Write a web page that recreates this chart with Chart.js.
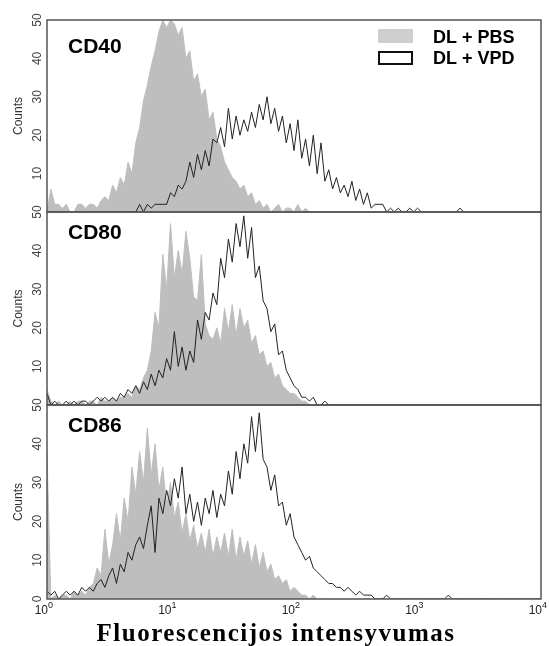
<!DOCTYPE html>
<html>
<head>
<meta charset="utf-8">
<script src="https://cdn.jsdelivr.net/npm/chart.js@4.4.1/dist/chart.umd.min.js"></script>
<style>
  body { margin: 0; background: #fff; }
  #wrap { position: relative; width: 549px; height: 646px; }
  canvas { position: absolute; left: 0; top: 0; }
</style>
</head>
<body>
<div id="wrap">
  <canvas id="cd40Chart" width="549" height="646"></canvas>
  <canvas id="cd80Chart" width="549" height="646"></canvas>
  <canvas id="cd86Chart" width="549" height="646"></canvas>
</div>
<script>
// channels: 32 per decade, 10^0 .. 10^4
const xTickExponents = ['0', '1', '2', '3', '4'];
const seriesNames = ['DL + PBS', 'DL + VPD'];
const panelNames = ['CD40', 'CD80', 'CD86'];

const pbsCD40 = [
  0, 6, 2, 2, 1, 2, 0, 0, 2, 2, 1, 2, 2, 1, 3, 4,
  3, 7, 5, 9, 7, 13, 10, 18, 22, 29, 33, 38, 42, 47, 50, 48,
  50, 49, 46, 48, 40, 42, 34, 36, 30, 32, 24, 26, 19, 17, 13, 11,
  9, 8, 6, 7, 4, 5, 2, 3, 1, 2, 0, 1, 2, 0, 1, 1,
  0, 2, 0, 1, 0, 0, 0, 0, 0, 0, 0, 0, 0, 0, 0, 0,
  0, 0, 0, 0, 0, 0, 0, 0, 0, 0, 0, 0, 0, 0, 0, 0,
  0, 0, 0, 0, 0, 0, 0, 0, 0, 0, 0, 0, 0, 0, 0, 0,
  0, 0, 0, 0, 0, 0, 0, 0, 0, 0, 0, 0, 0, 0, 0, 0,
  0
];
const vpdCD40 = [
  0, 0, 0, 0, 0, 0, 0, 0, 0, 0, 0, 0, 0, 0, 0, 0,
  0, 0, 0, 0, 0, 0, 0, 0, 2, 0, 2, 1, 2, 2, 2, 2,
  5, 4, 7, 6, 8, 13, 9, 15, 11, 16, 12, 19, 18, 22, 17, 27,
  19, 25, 20, 24, 21, 26, 22, 28, 24, 30, 23, 27, 21, 25, 18, 23,
  16, 24, 14, 19, 12, 20, 10, 18, 8, 11, 6, 9, 5, 7, 4, 8,
  3, 6, 2, 5, 1, 2, 2, 2, 0, 1, 0, 1, 0, 0, 1, 0,
  1, 0, 0, 0, 0, 0, 0, 0, 0, 0, 0, 1, 0, 0, 0, 0,
  0, 0, 0, 0, 0, 0, 0, 0, 0, 0, 0, 0, 0, 0, 0, 0,
  0
];
const pbsCD80 = [
  4, 1, 0, 1, 0, 0, 1, 0, 1, 1, 0, 1, 1, 0, 2, 1,
  1, 2, 1, 2, 2, 3, 2, 5, 4, 7, 9, 14, 24, 20, 39, 30,
  47, 33, 40, 34, 45, 38, 28, 27, 39, 21, 18, 17, 20, 16, 25, 19,
  26, 18, 25, 20, 22, 16, 18, 13, 14, 10, 11, 7, 8, 5, 4, 3,
  3, 2, 1, 1, 0, 0, 0, 0, 0, 0, 0, 0, 0, 0, 0, 0,
  0, 0, 0, 0, 0, 0, 0, 0, 0, 0, 0, 0, 0, 0, 0, 0,
  0, 0, 0, 0, 0, 0, 0, 0, 0, 0, 0, 0, 0, 0, 0, 0,
  0, 0, 0, 0, 0, 0, 0, 0, 0, 0, 0, 0, 0, 0, 0, 0,
  0
];
const vpdCD80 = [
  3, 0, 1, 0, 0, 1, 0, 1, 0, 1, 1, 0, 1, 2, 1, 2,
  1, 2, 1, 3, 2, 4, 3, 5, 3, 6, 4, 8, 5, 9, 7, 12,
  9, 19, 10, 15, 9, 14, 11, 22, 17, 24, 22, 29, 26, 38, 33, 43,
  37, 47, 41, 49, 38, 46, 33, 36, 27, 25, 19, 21, 13, 14, 9, 7,
  5, 4, 2, 2, 1, 2, 0, 0, 1, 0, 0, 0, 0, 0, 0, 0,
  0, 0, 0, 0, 0, 0, 0, 0, 0, 0, 0, 0, 0, 0, 0, 0,
  0, 0, 0, 0, 0, 0, 0, 0, 0, 0, 0, 0, 0, 0, 0, 0,
  0, 0, 0, 0, 0, 0, 0, 0, 0, 0, 0, 0, 0, 0, 0, 0,
  0
];
const pbsCD86 = [
  38, 0, 1, 0, 1, 1, 0, 2, 1, 2, 1, 3, 4, 8, 6, 18,
  9, 14, 22, 15, 26, 20, 34, 27, 38, 30, 44, 32, 40, 28, 34, 24,
  30, 21, 25, 17, 22, 15, 19, 13, 17, 12, 18, 11, 16, 12, 17, 11,
  18, 10, 16, 11, 15, 9, 14, 8, 12, 7, 9, 5, 6, 4, 5, 2,
  3, 2, 1, 1, 0, 1, 0, 0, 0, 0, 0, 0, 0, 0, 0, 0,
  0, 0, 0, 0, 0, 0, 0, 0, 0, 0, 0, 0, 0, 0, 0, 0,
  0, 0, 0, 0, 0, 0, 0, 0, 0, 0, 0, 0, 0, 0, 0, 0,
  0, 0, 0, 0, 0, 0, 0, 0, 0, 0, 0, 0, 0, 0, 0, 0,
  0
];
const vpdCD86 = [
  2, 1, 2, 0, 1, 2, 1, 2, 1, 3, 2, 3, 2, 4, 5, 3,
  6, 8, 4, 9, 7, 12, 10, 14, 16, 13, 19, 24, 12, 26, 22, 28,
  24, 31, 26, 34, 22, 27, 20, 25, 19, 26, 22, 28, 21, 27, 24, 33,
  27, 38, 31, 40, 35, 47, 38, 48, 36, 34, 28, 32, 24, 25, 19, 22,
  16, 14, 12, 10, 11, 8, 7, 6, 5, 4, 4, 3, 3, 2, 3, 2,
  1, 2, 1, 1, 1, 0, 0, 0, 1, 0, 0, 0, 0, 0, 0, 0,
  0, 0, 0, 0, 0, 0, 0, 0, 1, 0, 0, 0, 0, 0, 0, 0,
  0, 0, 0, 0, 0, 0, 0, 0, 0, 0, 0, 0, 0, 0, 0, 0,
  0
];
const channels = pbsCD40.map((v, i) => i);

const GRAY = '#bebebe';
const LINE = '#222';
const SANS = '"Liberation Sans", Arial, sans-serif';

// frame, rotated y tick labels, x tick labels with exponent, panel name
const panelDeco = {
  id: 'panelDeco',
  afterDraw(chart, args, opts) {
    const { ctx, chartArea: a } = chart;
    const y = chart.scales.y;
    const x = chart.scales.x;
    ctx.save();
    ctx.fillStyle = '#444';
    ctx.font = '12px ' + SANS;
    ctx.textAlign = 'center';
    ctx.textBaseline = 'middle';
    y.ticks.forEach(t => {
      if (t.value === 0 && !opts.showZero) return;
      ctx.save();
      ctx.translate(38, y.getPixelForValue(t.value));
      ctx.rotate(-Math.PI / 2);
      ctx.fillText(String(t.value), 0, 0);
      ctx.restore();
    });
    ctx.strokeStyle = '#555';
    ctx.lineWidth = 1.5;
    ctx.strokeRect(a.left, a.top, a.right - a.left, a.bottom - a.top);

    if (opts.showX) {
      ctx.fillStyle = '#222';
      ctx.textBaseline = 'alphabetic';
      x.ticks.forEach((t, i) => {
        const px = x.getPixelForValue(t.value);
        ctx.font = '12px ' + SANS;
        ctx.textAlign = 'right';
        ctx.fillText('10', px + 1, a.bottom + 15);
        ctx.font = '9px ' + SANS;
        ctx.textAlign = 'left';
        ctx.fillText(xTickExponents[i], px + 1, a.bottom + 9);
      });
    }

    ctx.fillStyle = '#000';
    ctx.font = 'bold 21px ' + SANS;
    ctx.textAlign = 'left';
    ctx.textBaseline = 'alphabetic';
    ctx.fillText(opts.name, a.left + 21, a.top + opts.nameY);

    if (opts.legend) {
      ctx.fillStyle = '#cfcfcf';
      ctx.fillRect(378, 29, 35, 14);
      ctx.strokeStyle = '#111';
      ctx.lineWidth = 2;
      ctx.strokeRect(379, 52, 33, 12);
      ctx.fillStyle = '#000';
      ctx.font = 'bold 18px ' + SANS;
      ctx.fillText(seriesNames[0], 433, 43);
      ctx.fillText(seriesNames[1], 433, 64);
    }
    if (opts.xTitle) {
      ctx.fillStyle = '#000';
      ctx.font = 'bold 25px "Liberation Serif", "Times New Roman", serif';
      ctx.textAlign = 'center';
      ctx.letterSpacing = '1.5px';
      ctx.fillText(opts.xTitle, 276, 641);
    }
    ctx.restore();
  }
};

function createHistogram(cfg) {
  const ctx = document.getElementById(cfg.elementId).getContext('2d');
  new Chart(ctx, {
    type: 'line',
    data: {
      labels: channels,
      datasets: [{
        label: seriesNames[1],
        data: cfg.vpd,
        borderColor: LINE,
        borderWidth: 1,
        fill: false,
        pointRadius: 0,
        tension: 0,
        order: 0
      }, {
        label: seriesNames[0],
        data: cfg.pbs,
        borderColor: GRAY,
        backgroundColor: GRAY,
        borderWidth: 1,
        fill: 'origin',
        pointRadius: 0,
        tension: 0,
        order: 1
      }]
    },
    options: {
      responsive: false,
      animation: false,
      layout: { padding: { top: cfg.top, bottom: cfg.bottom, left: 0, right: 8 } },
      plugins: {
        legend: { display: false },
        tooltip: { enabled: false },
        panelDeco: Object.assign({ showX: cfg.showX }, cfg.deco)
      },
      scales: {
        x: {
          type: 'linear',
          min: 0,
          max: 128,
          display: cfg.showX,
          grid: { display: false },
          border: { display: false },
          ticks: { display: false, stepSize: 32 },
          afterFit: s => {
            if (cfg.showX) s.height = 20;
            s.paddingLeft = 0;
            s.paddingRight = 0;
          }
        },
        y: {
          min: 0,
          max: 50,
          grid: { display: false },
          border: { display: false },
          ticks: { display: false, stepSize: 10 },
          title: {
            display: true,
            text: 'Counts',
            color: '#333',
            font: { size: 12, family: SANS },
            padding: { top: 11, bottom: 0 }
          },
          afterFit: s => { s.width = 47; }
        }
      }
    },
    plugins: [panelDeco]
  });
}

createHistogram({
  elementId: 'cd40Chart', pbs: pbsCD40, vpd: vpdCD40,
  top: 20, bottom: 434, showX: false,
  deco: { name: panelNames[0], nameY: 33, showZero: false, legend: true }
});
createHistogram({
  elementId: 'cd80Chart', pbs: pbsCD80, vpd: vpdCD80,
  top: 212, bottom: 241, showX: false,
  deco: { name: panelNames[1], nameY: 27, showZero: false }
});
createHistogram({
  elementId: 'cd86Chart', pbs: pbsCD86, vpd: vpdCD86,
  top: 405, bottom: 27, showX: true,
  deco: { name: panelNames[2], nameY: 27, showZero: true, xTitle: 'Fluorescencijos intensyvumas' }
});
</script>
</body>
</html>
